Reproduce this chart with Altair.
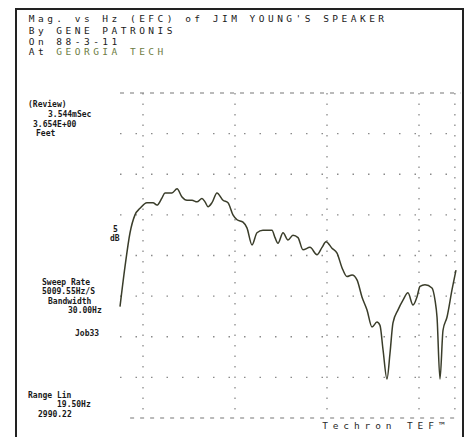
import altair as alt
import pandas as pd

# ---- data (frequency in kHz, level in dB relative to top grid line)
freq_khz = [0.25, 0.304, 0.359, 0.413, 0.467, 0.543, 0.609, 0.652, 0.707, 0.739, 0.815, 0.870,
            0.924, 0.978, 1.033, 1.087, 1.141, 1.174, 1.207, 1.250, 1.304, 1.370, 1.424, 1.478,
            1.522, 1.587, 1.630, 1.685, 1.739, 1.804, 1.902, 1.935, 1.967, 2.022, 2.076, 2.130,
            2.185, 2.239, 2.315, 2.391, 2.446, 2.489, 2.554, 2.609, 2.663, 2.717, 2.772, 2.826,
            2.880, 2.935, 2.989, 3.043, 3.076, 3.109, 3.152, 3.185, 3.217, 3.272, 3.326, 3.380,
            3.435, 3.478, 3.511, 3.565, 3.641, 3.674, 3.696, 3.728, 3.761, 3.804, 3.859, 3.902]
level_db = [-26.3, -21.4, -17.2, -15.0, -14.2, -13.5, -13.5, -13.8, -12.9, -12.3, -12.3, -11.8,
            -12.8, -13.2, -13.2, -13.4, -13.0, -13.4, -14.0, -13.5, -12.3, -13.2, -13.5, -15.0,
            -15.6, -15.9, -16.6, -18.7, -17.2, -16.9, -16.9, -17.8, -18.5, -17.2, -18.1, -17.5,
            -17.8, -19.3, -19.0, -19.9, -19.0, -18.3, -19.1, -19.7, -21.5, -22.6, -22.4, -23.0,
            -25.1, -26.7, -28.8, -28.2, -28.6, -31.6, -35.2, -32.0, -28.3, -26.7, -25.5, -24.6,
            -26.1, -25.1, -23.8, -23.6, -24.0, -25.5, -27.6, -35.2, -29.2, -27.6, -24.2, -21.8]

grid_db = [-5, -10, -15, -20, -25, -30, -35]
edge_db = [0, -40]
grid_khz = [0.5, 1.5, 2.5, 3.5, 3.89]

title_lines = ["Mag. vs Hz (EFC) of JIM YOUNG'S SPEAKER", "By GENE PATRONIS", "On 88-3-11", "At GEORGIA TECH"]
brand = "Techron TEF\u2122"
side_texts = ["(Review)", "3.544mSec", "3.654E+00", "Feet", "Sweep Rate", "5009.55Hz/S",
              "Bandwidth", "30.00Hz", "Job33", "Range Lin", "19.50Hz", "2990.22", "5", "dB"]

# ---- layout (pixels inside the 457x429 svg)
W, H = 457, 429
xs = alt.Scale(domain=[-0.9674, 4.0], range=[0, W])
ys = alt.Scale(domain=[-42.34, 10.46], range=[H, 0])

curve = pd.DataFrame({"f": freq_khz, "db": level_db})

rows = pd.DataFrame({"db": grid_db, "f1": 0.25, "f2": 3.95})
edges = pd.DataFrame({"db": edge_db, "f1": [0.25, 0.36], "f2": [3.95, 3.89]})
cols = pd.DataFrame({"f": grid_khz, "d1": 0, "d2": -40})

grid_h = alt.Chart(rows).mark_rule(color="#8a8a8a", strokeWidth=1.3, strokeDash=[1.5, 14]).encode(
    x=alt.X("f1:Q", scale=xs, axis=None), x2="f2:Q", y=alt.Y("db:Q", scale=ys, axis=None))
grid_e = alt.Chart(edges).mark_rule(color="#777", strokeWidth=1.2, strokeDash=[4, 6]).encode(
    x=alt.X("f1:Q", scale=xs, axis=None), x2="f2:Q", y=alt.Y("db:Q", scale=ys, axis=None))
grid_v = alt.Chart(cols).mark_rule(color="#8a8a8a", strokeWidth=1.3, strokeDash=[1.5, 9]).encode(
    x=alt.X("f:Q", scale=xs, axis=None), y=alt.Y("d1:Q", scale=ys, axis=None), y2="d2:Q")

line = alt.Chart(curve).mark_line(color="#3a3d2a", strokeWidth=1.5, interpolate="monotone").encode(
    x=alt.X("f:Q", scale=xs, axis=None), y=alt.Y("db:Q", scale=ys, axis=None))

# per-character title text (wide typewriter pitch)
char_rows = []
line_y = [11, 23, 34, 44]
for i, s in enumerate(title_lines):
    for j, ch in enumerate(s):
        col = "#6d7c42" if (i == 3 and j >= 3) else "#1a1a1a"
        char_rows.append({"cx": 19 + 4.6 + j * 9.2, "cy": line_y[i], "ch": ch, "col": col})
for j, ch in enumerate(brand):
    char_rows.append({"cx": 312 + 5 + j * 10.6, "cy": 418, "ch": ch, "col": "#2a2a2a"})
chars = pd.DataFrame(char_rows)

title = alt.Chart(chars).mark_text(font="DejaVu Sans Mono", fontSize=9.5, baseline="middle",
                                   align="center").encode(
    x=alt.X("cx:Q", scale=None), y=alt.Y("cy:Q", scale=None), text="ch:N",
    color=alt.Color("col:N", scale=None))

side_x = [20, 40, 25, 28, 34, 34, 40, 60, 67, 20, 49, 30, 105, 102]
side_y = [97, 107, 117, 126, 275, 284, 294, 303, 326, 388, 397, 407, 222, 231]
side = pd.DataFrame({"t": side_texts, "sx": side_x, "sy": side_y})
side_chart = alt.Chart(side).mark_text(font="DejaVu Sans Mono", fontSize=8, fontWeight="bold",
                                       align="left", baseline="middle", color="#1a1a1a").encode(
    x=alt.X("sx:Q", scale=None), y=alt.Y("sy:Q", scale=None), text="t:N")

frame = alt.Chart(pd.DataFrame({"a": [0]})).mark_rect(fill=None, stroke="#222", strokeWidth=2).encode(
    x=alt.value(8), x2=alt.value(455), y=alt.value(1), y2=alt.value(432))

chart = alt.layer(grid_h, grid_e, grid_v, line, title, side_chart, frame).resolve_scale(
    x="independent", y="independent", color="independent").properties(
    width=W, height=H, padding=0, autosize="none", background="white"
).configure_view(stroke=None)

chart.save("out.html", embed_options={"renderer": "svg", "actions": False})
